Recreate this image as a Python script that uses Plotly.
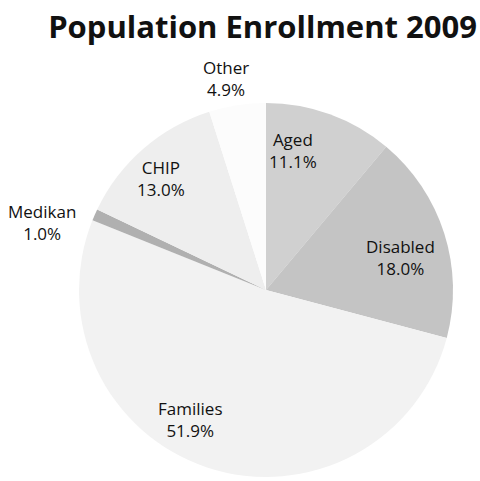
import math
import plotly.graph_objects as go

labels = ["Aged", "Disabled", "Families", "Medikan", "CHIP", "Other"]
values = [11.1, 18.0, 51.9, 1.0, 13.0, 4.9]

# styles
colors = ["#d0d0d0", "#c4c4c4", "#f2f2f2", "#b0b0b0", "#eeeeee", "#fcfcfc"]
label_radius = [0.76, 0.74, 0.80, 1.25, 0.82, 1.15]   # fraction of pie radius
label_angle_shift = [-9, 4, 12, -7, -2, -2]           # degrees, label placement tweak

W, H = 480, 481
cx, cy, r = 266, 290, 187

fig = go.Figure(go.Pie(
    labels=labels,
    values=values,
    sort=False,
    direction="clockwise",
    rotation=0,
    marker=dict(colors=colors, line=dict(width=0)),
    textinfo="none",
    showlegend=False,
    hoverinfo="label+value",
    domain=dict(x=[(cx - r) / W, (cx + r) / W], y=[1 - (cy + r) / H, 1 - (cy - r) / H]),
))

total = sum(values)
cum = 0.0
annotations = []
for lab, v, f, da in zip(labels, values, label_radius, label_angle_shift):
    mid = (cum + v / 2) / total * 360 + da
    cum += v
    a = math.radians(mid)
    px = cx + f * r * math.sin(a)
    py = cy - f * r * math.cos(a)
    annotations.append(dict(
        x=px / W, y=1 - py / H, xref="paper", yref="paper",
        text=f"{lab}<br>{v:.1f}%", showarrow=False,
        xanchor="center", yanchor="middle", align="center",
        font=dict(family="Open Sans, sans-serif", size=17, color="#111111"),
    ))

fig.update_layout(
    width=W, height=H,
    margin=dict(l=0, r=0, t=0, b=0),
    paper_bgcolor="white",
    plot_bgcolor="white",
    annotations=annotations,
    title=dict(text="<b>Population Enrollment 2009</b>", x=0.547, xanchor="center",
               y=1 - 27 / H, yanchor="middle",
               font=dict(family="Open Sans, sans-serif", size=31, color="#111111")),
)

fig.write_html("out.html")
